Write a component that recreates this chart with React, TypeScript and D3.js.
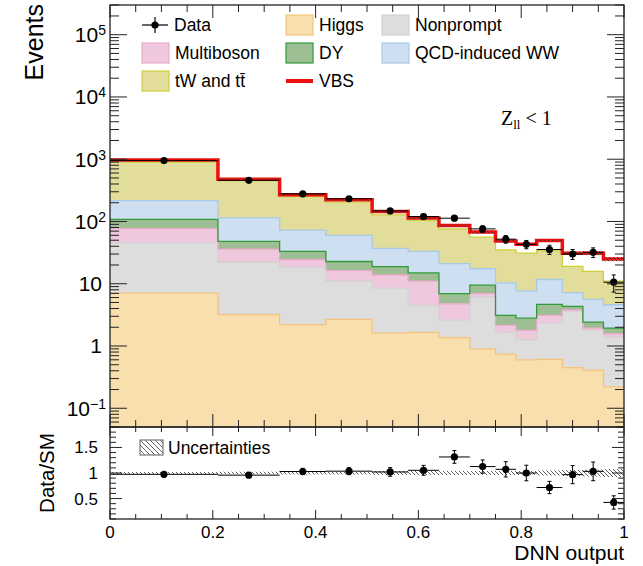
import React from 'react';
import * as d3 from 'd3';

// ---------------- data ----------------
const binEdges = [0, 0.21, 0.33, 0.42, 0.51, 0.58, 0.64, 0.7, 0.75, 0.79, 0.83, 0.88, 0.92, 0.96, 1.0];

const higgs = [7.06, 3.2, 2.2, 2.67, 1.61, 1.65, 1.36, 0.9, 0.74, 0.6, 0.61, 0.45, 0.41, 0.22];
const nonprompt = [38.3, 18.8, 16.1, 8.3, 6.9, 2.85, 1.27, 5.2, 0.93, 0.66, 1.72, 3.18, 1.37, 1.17];
const multiboson = [31.6, 14, 6, 5.3, 5.3, 6.5, 2.13, 0.85, 0.47, 0.52, 0.77, 0.17, 0.16, 0.18];
const dy = [31, 12, 8.9, 6.5, 5, 4, 2.19, 2.55, 0.96, 1.02, 1.55, 0.53, 0.48, 0.37];
const qcdWW = [109, 66, 39.3, 37.2, 18.2, 18, 14.05, 7.9, 7.2, 4.9, 7.05, 2.87, 3.18, 2.66];
const tWtt = [678, 341, 178.5, 144, 91, 71, 55, 38.6, 24.7, 23.3, 22.3, 11.8, 10.2, 6.4];
const vbs = [80, 23, 19, 20, 17, 10, 10, 11.5, 13.5, 12, 15.6, 12, 15.2, 14];

const dataCounts = [950, 458, 278, 232, 148, 120, 113, 76, 52, 43, 35.5, 30, 32, 10.6];
const uncRel = [0.02, 0.025, 0.03, 0.03, 0.04, 0.04, 0.04, 0.04, 0.04, 0.04, 0.05, 0.06, 0.07, 0.08];

const yTickExps = [-1, 0, 1, 2, 3, 4, 5];
const xTickVals = [0, 0.2, 0.4, 0.6, 0.8, 1];
const xTickLabels = ['0', '0.2', '0.4', '0.6', '0.8', '1'];
const ratioTickVals = [0.5, 1, 1.5];
const ratioTickLabels = ['0.5', '1', '1.5'];

const stackKeys = ['Higgs', 'Nonprompt', 'Multiboson', 'DY', 'QCD', 'tW', 'VBS'];
const stackValues = [higgs, nonprompt, multiboson, dy, qcdWW, tWtt, vbs];
const stackFill = ['#f8dfad', '#dddddd', '#efc8de', '#9dbe92', '#cfdff2', '#e2dd9b', 'none'];
const stackLine = ['#f3c57c', '#d2d2d2', '#e9aacd', '#2f9a36', '#a8c9e8', '#cfcf3a', '#ee1111'];

// ---------------- layout ----------------
const W = 643;
const H = 566;
const L = 110;
const R = 624;
const mainTop = 5;
const mainBot = 427;
const ratioBot = 519;
const FONT = 'Liberation Sans, Arial, Helvetica, sans-serif';

export default function App() {
  const x = d3.scaleLinear().domain([0, 1]).range([L, R]);
  const yMin = 0.05;
  const y = d3.scaleLog().domain([yMin, 3e5]).range([mainBot, mainTop]);
  const yr = d3.scaleLinear().domain([0.1, 1.9]).range([ratioBot, mainBot]);

  const nb = binEdges.length - 1;
  const rows = d3.range(nb).map((i) => {
    const r: any = { i };
    stackKeys.forEach((k, j) => (r[k] = stackValues[j][i]));
    return r;
  });
  const series = d3.stack().keys(stackKeys)(rows as any);
  const total = rows.map((_, i) => d3.sum(stackValues, (v) => v[i]));

  const stepPts = (lo: (i: number) => number, hi: (i: number) => number) => {
    const pts: any[] = [];
    for (let i = 0; i < nb; i++) {
      pts.push({ x: binEdges[i], y0: lo(i), y1: hi(i) });
      pts.push({ x: binEdges[i + 1], y0: lo(i), y1: hi(i) });
    }
    return pts;
  };

  const areaMain = d3
    .area<any>()
    .x((d) => x(d.x))
    .y0((d) => y(Math.max(d.y0, yMin)))
    .y1((d) => y(Math.max(d.y1, yMin)));
  const lineMain = d3
    .line<any>()
    .x((d) => x(d.x))
    .y((d) => y(Math.max(d.y1, yMin)));
  const areaRatio = d3
    .area<any>()
    .x((d) => x(d.x))
    .y0((d) => yr(d.y0))
    .y1((d) => yr(d.y1));

  // minor log ticks
  const minorLog: number[] = [];
  for (let k = -2; k <= 5; k++) {
    for (let m = 2; m <= 9; m++) {
      const v = m * Math.pow(10, k);
      if (v >= yMin && v <= 3e5) minorLog.push(v);
    }
  }
  const xMinor = d3.range(0, 21).map((i) => i * 0.05).filter((v) => Math.abs(v / 0.2 - Math.round(v / 0.2)) > 1e-6);
  const rMinor = d3.range(1, 20).map((i) => i * 0.1).filter((v) => Math.abs(v * 2 - Math.round(v * 2)) > 1e-6);

  const centers = d3.range(nb).map((i) => (binEdges[i] + binEdges[i + 1]) / 2);
  const ratio = dataCounts.map((d, i) => d / total[i]);
  const ratioErr = dataCounts.map((d, i) => Math.sqrt(d) / total[i]);

  const legendFont = 17.5;
  const rowY = [25, 53, 81];

  const boxEntry = (bx: number, cy: number, fill: string, stroke: string, label: string) => (
    <g key={label}>
      <rect x={bx} y={cy - 10} width={27} height={20} fill={fill} stroke={stroke} strokeWidth={1.2} />
      <text x={bx + 33} y={cy + 6} fontSize={legendFont} fontFamily={FONT}>
        {label}
      </text>
    </g>
  );

  return (
    <svg width={W} height={H} style={{ position: 'absolute', left: 0, top: 0, background: '#fff' }}>
      <defs>
        <pattern id="hatch" patternUnits="userSpaceOnUse" width={4} height={4}>
          <path d="M-1,-1 L5,5 M-1,3 L1,5 M3,-1 L5,1" stroke="#333" strokeWidth={0.8} />
        </pattern>
        <pattern id="hatchLeg" patternUnits="userSpaceOnUse" width={5} height={5}>
          <path d="M-1,-1 L6,6 M-1,4 L1,6 M4,-1 L6,1" stroke="#666" strokeWidth={1} />
        </pattern>
        <clipPath id="mainClip">
          <rect x={L} y={mainTop} width={R - L} height={mainBot - mainTop} />
        </clipPath>
        <clipPath id="ratioClip">
          <rect x={L} y={mainBot} width={R - L} height={ratioBot - mainBot} />
        </clipPath>
      </defs>

      {/* stacked fills */}
      <g clipPath="url(#mainClip)">
        {series.map((s, j) =>
          stackFill[j] === 'none' ? null : (
            <path
              key={'f' + j}
              d={areaMain(stepPts((i) => (j === 0 ? yMin : s[i][0]), (i) => s[i][1])) || ''}
              fill={stackFill[j]}
              stroke="none"
            />
          )
        )}
        {series.map((s, j) => (
          <path
            key={'l' + j}
            d={lineMain(stepPts((i) => s[i][0], (i) => s[i][1])) || ''}
            fill="none"
            stroke={stackLine[j]}
            strokeWidth={j === 6 ? 3.5 : 1.3}
          />
        ))}
        {/* uncertainty band */}
        <path
          d={areaMain(stepPts((i) => total[i] * (1 - uncRel[i]), (i) => total[i] * (1 + uncRel[i]))) || ''}
          fill="url(#hatch)"
          stroke="none"
        />
        {/* data */}
        {centers.map((c, i) => {
          const v = dataCounts[i];
          const e = Math.sqrt(v);
          const cy = y(v);
          return (
            <g key={'d' + i} stroke="#000" strokeWidth={1}>
              <line x1={x(binEdges[i])} x2={x(binEdges[i + 1])} y1={cy} y2={cy} />
              <line x1={x(c)} x2={x(c)} y1={y(v + e)} y2={y(Math.max(v - e, yMin))} />
              <line x1={x(c) - 2} x2={x(c) + 2} y1={y(v + e)} y2={y(v + e)} />
              <line x1={x(c) - 2} x2={x(c) + 2} y1={y(v - e)} y2={y(v - e)} />
              <circle cx={x(c)} cy={cy} r={3.6} fill="#000" stroke="none" />
            </g>
          );
        })}
      </g>

      {/* ratio panel */}
      <g clipPath="url(#ratioClip)">
        <path
          d={areaRatio(stepPts((i) => 1 - uncRel[i], (i) => 1 + uncRel[i])) || ''}
          fill="url(#hatch)"
          stroke="none"
        />
        {centers.map((c, i) => {
          const v = ratio[i];
          const e = ratioErr[i];
          const cy = yr(v);
          return (
            <g key={'r' + i} stroke="#000" strokeWidth={1}>
              <line x1={x(binEdges[i])} x2={x(binEdges[i + 1])} y1={cy} y2={cy} />
              <line x1={x(c)} x2={x(c)} y1={yr(v + e)} y2={yr(v - e)} />
              <line x1={x(c) - 2} x2={x(c) + 2} y1={yr(v + e)} y2={yr(v + e)} />
              <line x1={x(c) - 2} x2={x(c) + 2} y1={yr(v - e)} y2={yr(v - e)} />
              <circle cx={x(c)} cy={cy} r={3.6} fill="#000" stroke="none" />
            </g>
          );
        })}
      </g>

      {/* frames */}
      <rect x={L} y={mainTop} width={R - L} height={mainBot - mainTop} fill="none" stroke="#222" strokeWidth={1.3} />
      <rect x={L} y={mainBot} width={R - L} height={ratioBot - mainBot} fill="none" stroke="#222" strokeWidth={1.3} />

      {/* main y ticks */}
      <g stroke="#222" strokeWidth={1}>
        {yTickExps.map((k) => {
          const ty = y(Math.pow(10, k));
          return (
            <g key={'yt' + k}>
              <line x1={L} x2={L + 17} y1={ty} y2={ty} />
              <line x1={R} x2={R - 17} y1={ty} y2={ty} />
            </g>
          );
        })}
        {minorLog.map((v, i) => (
          <g key={'ym' + i}>
            <line x1={L} x2={L + 9} y1={y(v)} y2={y(v)} />
            <line x1={R} x2={R - 9} y1={y(v)} y2={y(v)} />
          </g>
        ))}
        {/* main x ticks */}
        {xTickVals.map((v) => (
          <g key={'xt' + v}>
            <line x1={x(v)} x2={x(v)} y1={mainBot} y2={mainBot - 13} />
            <line x1={x(v)} x2={x(v)} y1={mainTop} y2={mainTop + 13} />
            <line x1={x(v)} x2={x(v)} y1={ratioBot} y2={ratioBot - 9} />
            <line x1={x(v)} x2={x(v)} y1={mainBot} y2={mainBot + 9} />
          </g>
        ))}
        {xMinor.map((v) => (
          <g key={'xm' + v}>
            <line x1={x(v)} x2={x(v)} y1={mainBot} y2={mainBot - 7} />
            <line x1={x(v)} x2={x(v)} y1={mainTop} y2={mainTop + 7} />
            <line x1={x(v)} x2={x(v)} y1={ratioBot} y2={ratioBot - 5} />
            <line x1={x(v)} x2={x(v)} y1={mainBot} y2={mainBot + 5} />
          </g>
        ))}
        {/* ratio y ticks */}
        {ratioTickVals.map((v) => (
          <g key={'rt' + v}>
            <line x1={L} x2={L + 12} y1={yr(v)} y2={yr(v)} />
            <line x1={R} x2={R - 12} y1={yr(v)} y2={yr(v)} />
          </g>
        ))}
        {rMinor.map((v) => (
          <g key={'rm' + v}>
            <line x1={L} x2={L + 6} y1={yr(v)} y2={yr(v)} />
            <line x1={R} x2={R - 6} y1={yr(v)} y2={yr(v)} />
          </g>
        ))}
      </g>

      {/* main y tick labels */}
      <g fontFamily={FONT} fill="#000">
        {yTickExps.map((k) => {
          const ty = y(Math.pow(10, k));
          if (k === 0)
            return (
              <text key={'yl' + k} x={102} y={ty + 7.5} fontSize={21} textAnchor="end">
                1
              </text>
            );
          if (k === 1)
            return (
              <text key={'yl' + k} x={102} y={ty + 7.5} fontSize={21} textAnchor="end">
                10
              </text>
            );
          return (
            <text key={'yl' + k} x={106} y={ty + 7.5} fontSize={21} textAnchor="end">
              10
              <tspan fontSize={14} dy={-7}>
                {k < 0 ? '\u2212' + Math.abs(k) : String(k)}
              </tspan>
            </text>
          );
        })}
        {ratioTickVals.map((v, i) => (
          <text key={'rl' + v} x={98} y={yr(v) + 6} fontSize={17} textAnchor="end">
            {ratioTickLabels[i]}
          </text>
        ))}
        {xTickVals.map((v, i) => (
          <text key={'xl' + v} x={x(v)} y={538} fontSize={17} textAnchor="middle">
            {xTickLabels[i]}
          </text>
        ))}
        <text x={R} y={560} fontSize={21} textAnchor="end">
          DNN output
        </text>
        <text transform="translate(43,4) rotate(-90)" fontSize={25} textAnchor="end">
          Events
        </text>
        <text transform="translate(54,473) rotate(-90)" fontSize={20.5} textAnchor="middle">
          Data/SM
        </text>
      </g>

      {/* Z_ll annotation */}
      <text x={501} y={125} fontSize={20} fontFamily="Liberation Serif, Times New Roman, serif">
        Z
        <tspan fontSize={13} dy={4}>
          ll
        </tspan>
        <tspan dy={-4}> {'< 1'}</tspan>
      </text>

      {/* legend */}
      <g>
        {/* Data */}
        <line x1={142} x2={168} y1={rowY[0]} y2={rowY[0]} stroke="#000" strokeWidth={1.2} />
        <line x1={155} x2={155} y1={rowY[0] - 8} y2={rowY[0] + 8} stroke="#000" strokeWidth={1.2} />
        <circle cx={155} cy={rowY[0]} r={3.6} fill="#000" />
        <text x={174} y={rowY[0] + 6} fontSize={legendFont} fontFamily={FONT}>
          Data
        </text>
        {boxEntry(142, rowY[1], stackFill[2], stackLine[2], 'Multiboson')}
        {boxEntry(142, rowY[2], stackFill[5], stackLine[5], 'tW and tt\u0304')}
        {boxEntry(286, rowY[0], stackFill[0], stackLine[0], 'Higgs')}
        {boxEntry(286, rowY[1], stackFill[3], stackLine[3], 'DY')}
        <line x1={286} x2={313} y1={rowY[2]} y2={rowY[2]} stroke="#ee1111" strokeWidth={4} />
        <text x={319} y={rowY[2] + 6} fontSize={legendFont} fontFamily={FONT}>
          VBS
        </text>
        {boxEntry(382, rowY[0], stackFill[1], stackLine[1], 'Nonprompt')}
        {boxEntry(382, rowY[1], stackFill[4], stackLine[4], 'QCD-induced WW')}

        {/* Uncertainties */}
        <rect x={140} y={440} width={23} height={15} fill="url(#hatchLeg)" stroke="#777" strokeWidth={1.2} />
        <text x={168} y={454} fontSize={legendFont} fontFamily={FONT}>
          Uncertainties
        </text>
      </g>
    </svg>
  );
}
